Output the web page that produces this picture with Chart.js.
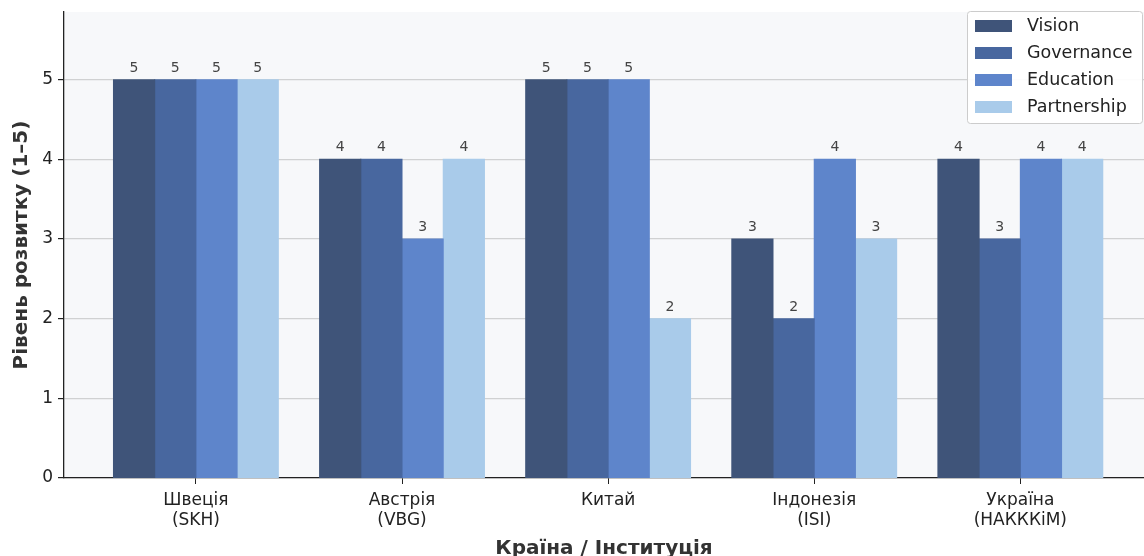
<!DOCTYPE html>
<html>
<head>
<meta charset="utf-8">
<script src="https://cdn.jsdelivr.net/npm/chart.js@4.4.1/dist/chart.umd.min.js"></script>
<style>
  html, body { margin: 0; padding: 0; background: #ffffff; }
  #wrap { width: 1144px; height: 556px; position: relative; }
</style>
</head>
<body>
<div id="wrap"><canvas id="devChart" width="1144" height="556"></canvas></div>
<script>
const categories = [['Швеція', '(SKH)'], ['Австрія', '(VBG)'], ['Китай', ''], ['Індонезія', '(ISI)'], ['Україна', '(НАКККіМ)']];
const seriesNames = ['Vision', 'Governance', 'Education', 'Partnership'];
const vision = [5, 4, 5, 3, 4];
const governance = [5, 4, 5, 2, 3];
const education = [5, 3, 5, 4, 4];
const partnership = [5, 4, 2, 3, 4];
const yTicks = [0, 1, 2, 3, 4, 5];
const colors = ['#3f5479', '#48679f', '#5e85cb', '#a9cbea'];

const allSeries = [vision, governance, education, partnership];
const FONT = "'DejaVu Sans', sans-serif";

const bgPlugin = {
    id: 'plotBg',
    beforeDraw(chart) {
        const { ctx, chartArea: a } = chart;
        ctx.save();
        ctx.fillStyle = '#f7f8fa';
        ctx.fillRect(a.left, a.top, a.right - a.left, a.bottom - a.top);
        ctx.restore();
    }
};

// value labels above bars + legend box
const labelPlugin = {
    id: 'barLabels',
    afterDraw(chart) {
        const ctx = chart.ctx;
        ctx.save();
        ctx.font = '14px ' + FONT;
        ctx.fillStyle = '#444';
        ctx.textAlign = 'center';
        ctx.textBaseline = 'alphabetic';
        chart.data.datasets.forEach((ds, i) => {
            chart.getDatasetMeta(i).data.forEach((bar, j) => {
                ctx.fillText(String(ds.data[j].y), bar.x, bar.y - 8);
            });
        });

        // legend
        const bx = 967, by = 11, bw = 175, bh = 112;
        ctx.fillStyle = 'rgba(255,255,255,0.92)';
        ctx.strokeStyle = '#cccccc';
        ctx.lineWidth = 1;
        ctx.beginPath();
        ctx.roundRect(bx + 0.5, by + 0.5, bw, bh, 3);
        ctx.fill();
        ctx.stroke();
        ctx.font = '17.5px ' + FONT;
        ctx.textAlign = 'left';
        ctx.textBaseline = 'middle';
        seriesNames.forEach((name, i) => {
            const cy = by + 15 + i * 27;
            ctx.fillStyle = colors[i];
            ctx.fillRect(975, cy - 6, 37, 12);
            ctx.fillStyle = '#222';
            ctx.fillText(name, 1027, cy);
        });
        ctx.restore();
    }
};

const datasets = seriesNames.map((name, i) => ({
    label: name,
    data: allSeries[i].map((v, j) => ({ x: j, y: v })),
    backgroundColor: colors[i],
    borderWidth: 0,
    inflateAmount: 0.5,
    categoryPercentage: 0.8,
    barPercentage: 1.0
}));

new Chart(document.getElementById('devChart'), {
    type: 'bar',
    data: { datasets },
    plugins: [bgPlugin, labelPlugin],
    options: {
        responsive: false,
        animation: false,
        layout: { padding: { top: 12, right: 0, left: 0, bottom: 0 } },
        plugins: {
            legend: { display: false },
            tooltip: { enabled: false }
        },
        scales: {
            x: {
                type: 'linear',
                offset: false,
                min: -0.64,
                max: 4.6,
                afterFit(s) { s.height = 78; s.paddingLeft = 0; s.paddingRight = 0; },
                afterBuildTicks(s) { s.ticks = categories.map((c, i) => ({ value: i })); },
                ticks: {
                    callback: (v) => categories[v],
                    font: { family: FONT, size: 17 },
                    color: '#222',
                    padding: 6,
                    maxRotation: 0,
                    autoSkip: false
                },
                grid: { offset: false, drawOnChartArea: false, tickLength: 6, tickColor: '#222' },
                border: { color: '#222', width: 1.3 },
                title: {
                    display: true,
                    text: 'Країна / Інституція',
                    font: { family: FONT, size: 20, weight: 'bold' },
                    color: '#333',
                    padding: { top: 0, bottom: -5 }
                }
            },
            y: {
                min: 0,
                max: 5.85,
                z: 1,
                afterFit(s) { s.width = 64; s.paddingTop = 0; s.paddingBottom = 0; },
                afterBuildTicks(s) { s.ticks = yTicks.map(v => ({ value: v })); },
                ticks: {
                    font: { family: FONT, size: 17 },
                    color: '#222',
                    padding: 5
                },
                grid: {
                    color: 'rgba(150,150,150,0.4)',
                    lineWidth: 1.2,
                    tickLength: 6,
                    tickColor: '#222'
                },
                border: { color: '#222', width: 1.3 },
                title: {
                    display: true,
                    text: 'Рівень розвитку (1–5)',
                    font: { family: FONT, size: 20, weight: 'bold' },
                    color: '#333',
                    padding: { top: 10, bottom: 0 }
                }
            }
        }
    }
});
</script>
</body>
</html>
